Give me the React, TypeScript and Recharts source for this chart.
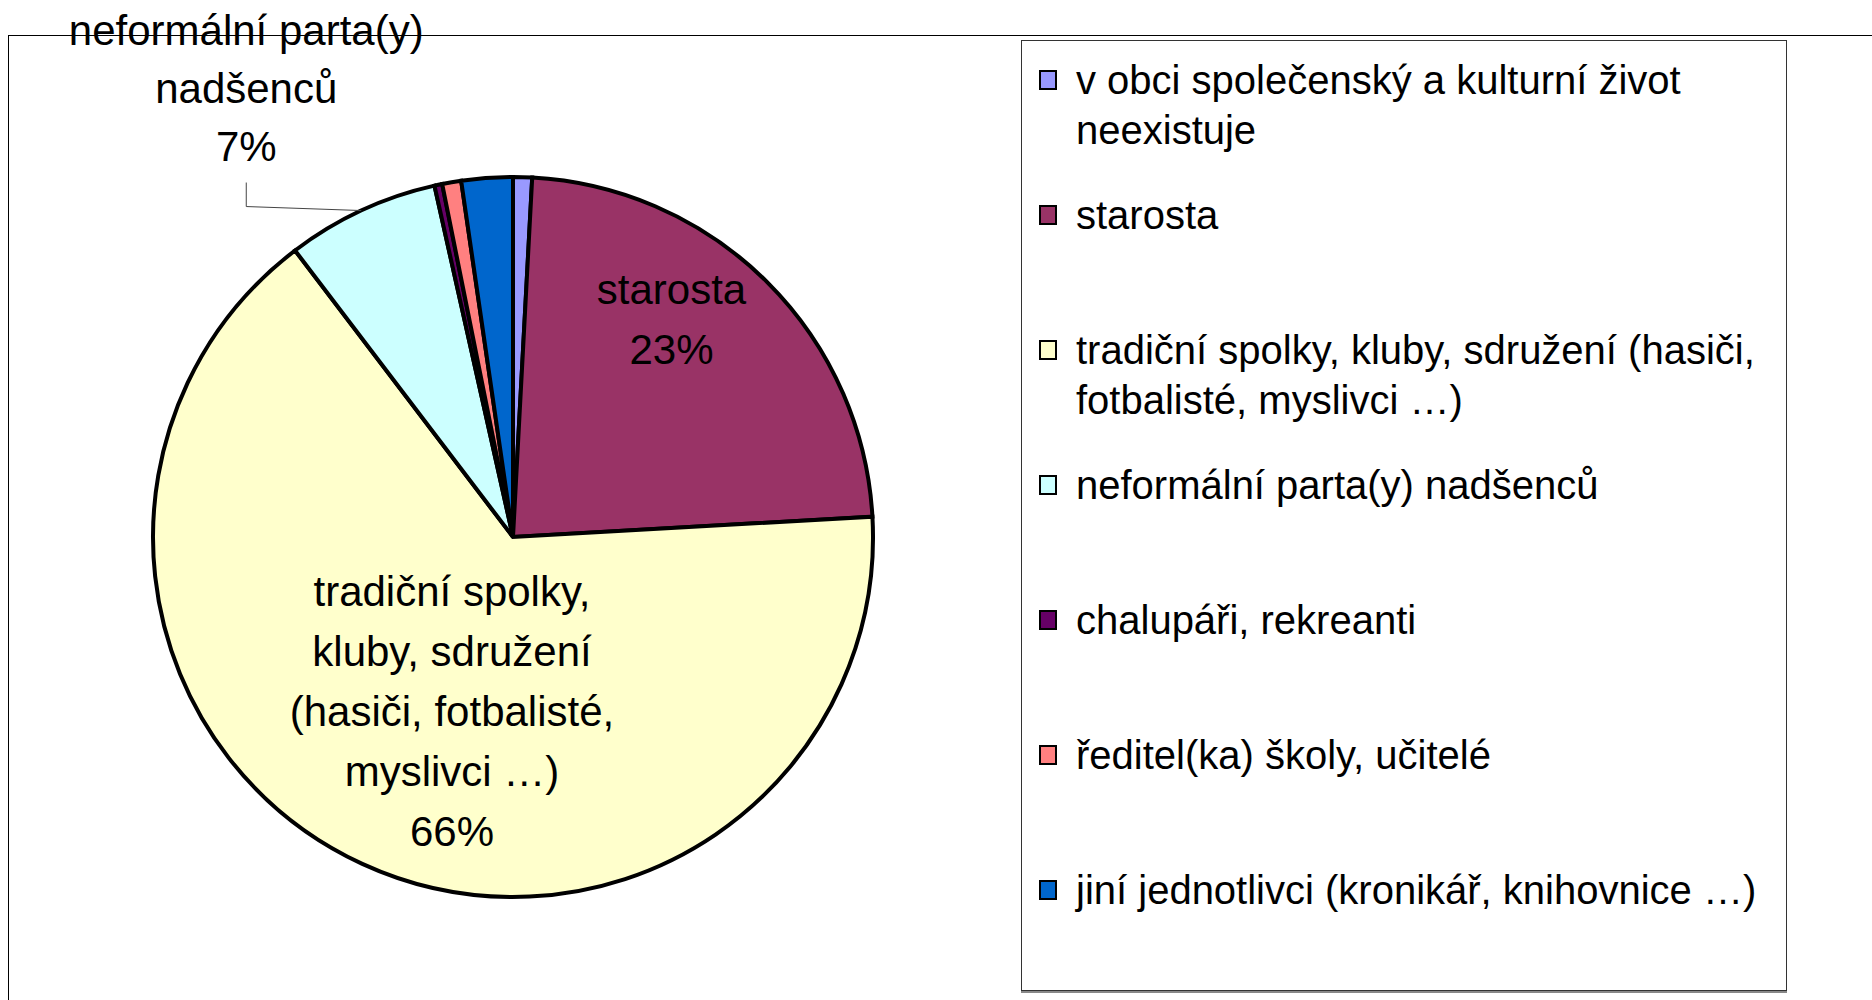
import React from 'react';
import { PieChart, Pie, Cell, Legend } from 'recharts';

// kdo je hybatelem společenského života v obci (podíl odpovědí)
const categories = [
  'v obci společenský a kulturní život neexistuje',
  'starosta',
  'tradiční spolky, kluby, sdružení (hasiči, fotbalisté, myslivci …)',
  'neformální parta(y) nadšenců',
  'chalupáři, rekreanti',
  'ředitel(ka) školy, učitelé',
  'jiní jednotlivci (kronikář, knihovnice …)',
];
const shares = [0.85, 23.25, 65.55, 6.85, 0.35, 0.85, 2.3];
const colors = ['#9999FF', '#993366', '#FFFFCC', '#CCFFFF', '#660066', '#FF8080', '#0066CC'];
// which slices carry a data label
const labelled = ['starosta', 'tradiční spolky, kluby, sdružení (hasiči, fotbalisté, myslivci …)', 'neformální parta(y) nadšenců'];

const data = categories.map((name, i) => ({ name, value: shares[i] }));

const FONT = '"Liberation Sans", Arial, sans-serif';
const RAD = Math.PI / 180;

// rough word wrap for the labels inside the pie
const wrap = (text: string, maxChars: number) => {
  const words = text.split(' ');
  const lines: string[] = [];
  let cur = '';
  words.forEach((w) => {
    if (cur && (cur + ' ' + w).length > maxChars) {
      lines.push(cur);
      cur = w;
    } else {
      cur = cur ? cur + ' ' + w : w;
    }
  });
  if (cur) lines.push(cur);
  return lines;
};

// placement tweaks for the inside labels (fraction of radius, angle nudge)
const inside: Record<number, { r: number; shift: number }> = {
  1: { r: 0.747, shift: 8.8 },
  2: { r: 0.514, shift: 5.5 },
};

const renderLabel = (props: any) => {
  const { cx, cy, midAngle, outerRadius, percent, name, index } = props;
  if (!labelled.includes(name)) return null;
  const lines = [...wrap(name, 20), `${Math.round(percent * 100)}%`];
  const lh = 60;

  if (inside[index]) {
    const { r, shift } = inside[index];
    const a = -(midAngle + shift) * RAD;
    const x = cx + outerRadius * r * Math.cos(a);
    const y = cy + outerRadius * r * Math.sin(a);
    const top = y - ((lines.length - 1) * lh) / 2;
    return (
      <text x={x} y={top} textAnchor="middle" fill="#000" fontSize={42} fontFamily={FONT}>
        {lines.map((l, i) => (
          <tspan key={i} x={x} y={top + i * lh} dominantBaseline="central">{l}</tspan>
        ))}
      </text>
    );
  }

  // outside label with elbow leader line
  const a = -midAngle * RAD;
  const ex = cx + outerRadius * Math.cos(a);
  const ey = cy + outerRadius * Math.sin(a);
  const bx = ex - 115;
  const bottom = ey - 64;
  return (
    <g>
      <polyline points={`${ex},${ey} ${bx},${ey - 4} ${bx},${ey - 28}`} fill="none" stroke="#444" strokeWidth={1} />
      <text x={bx} y={bottom} textAnchor="middle" fill="#000" fontSize={42} fontFamily={FONT}>
        {lines.map((l, i) => (
          <tspan key={i} x={bx} y={bottom - (lines.length - 1 - i) * 58} dominantBaseline="central">{l}</tspan>
        ))}
      </text>
    </g>
  );
};

const renderLegend = () => (
  <div
    style={{
      width: 766,
      height: 951,
      boxSizing: 'border-box',
      border: '1px solid #333',
      boxShadow: '0 2px 0 #888',
      background: '#fff',
      paddingTop: 14,
      fontFamily: FONT,
    }}
  >
    {categories.map((name, i) => (
      <div key={name} style={{ height: 135, position: 'relative' }}>
        <div
          style={{
            position: 'absolute',
            left: 17,
            top: 15,
            width: 18,
            height: 20,
            boxSizing: 'border-box',
            border: '2px solid #000',
            background: colors[i],
          }}
        />
        <div style={{ position: 'absolute', left: 54, top: 0, width: 705, fontSize: 40, lineHeight: '50px', color: '#000' }}>
          {name}
        </div>
      </div>
    ))}
  </div>
);

export default function App() {
  return (
    <div style={{ position: 'absolute', left: 0, top: 0, width: 1872, height: 1000, background: '#fff', overflow: 'hidden' }}>
      <div
        style={{
          position: 'absolute',
          left: 8,
          top: 35,
          width: 1880,
          height: 1000,
          borderTop: '1px solid #000',
          borderLeft: '1px solid #000',
        }}
      />
      <PieChart width={1872} height={1000} margin={{ top: 0, right: 0, bottom: 0, left: 0 }} style={{ position: 'absolute', left: 0, top: 0 }}>
        <Pie
          data={data}
          dataKey="value"
          nameKey="name"
          cx={513}
          cy={537}
          outerRadius={360}
          startAngle={90}
          endAngle={-270}
          stroke="#000"
          strokeWidth={4}
          label={renderLabel}
          labelLine={false}
          isAnimationActive={false}
        >
          {data.map((d, i) => (
            <Cell key={d.name} fill={colors[i]} />
          ))}
        </Pie>
        <Legend
          layout="vertical"
          align="right"
          verticalAlign="top"
          content={renderLegend}
          wrapperStyle={{ left: 1021, top: 40, width: 766, height: 951 }}
        />
      </PieChart>
    </div>
  );
}
